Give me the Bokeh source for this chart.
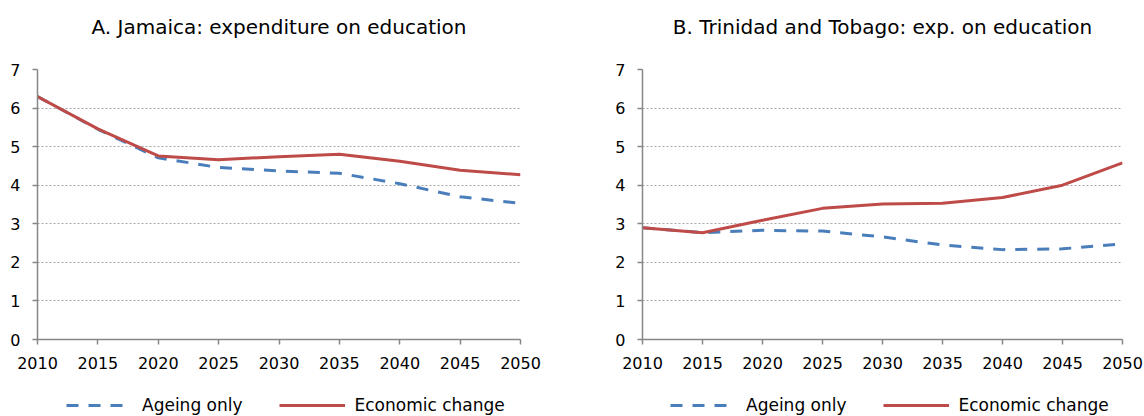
from bokeh.plotting import figure
from bokeh.layouts import row, column
from bokeh.models import Range1d, FixedTicker, Legend, LegendItem, ColumnDataSource, Title
from bokeh.embed import file_html
from bokeh.resources import INLINE

years = [2010, 2015, 2020, 2025, 2030, 2035, 2040, 2045, 2050]
jam_ageing = [6.30, 5.45, 4.71, 4.46, 4.37, 4.31, 4.04, 3.70, 3.53]
jam_econ = [6.30, 5.46, 4.76, 4.66, 4.74, 4.80, 4.62, 4.39, 4.27]
tt_ageing = [2.90, 2.77, 2.83, 2.81, 2.66, 2.45, 2.33, 2.35, 2.48]
tt_econ = [2.90, 2.77, 3.09, 3.40, 3.51, 3.53, 3.68, 4.00, 4.58]
y_ticks = [0, 1, 2, 3, 4, 5, 6, 7]
titles = ["A. Jamaica: expenditure on education",
          "B. Trinidad and Tobago: exp. on education"]
series_names = ["Ageing only", "Economic change"]

FONT = "DejaVu Sans"
BLUE = "#4A7EBB"
RED = "#BE4B48"
AXIS = "#868686"
GRID = "#A6A6A6"
DASH = "12 10"


def make_plot(title, ageing, econ, width, border_left, border_right):
    p = figure(width=width, height=375, output_backend="svg", toolbar_location=None,
               x_range=Range1d(2010, 2050), y_range=Range1d(0, 7),
               min_border_left=border_left, min_border_right=border_right,
               min_border_top=69, min_border_bottom=36, title=None)
    p.outline_line_color = None
    # inner spacer, then the visible title (outermost)
    p.add_layout(Title(text=" ", text_font_size="1px", standoff=19), "above")
    p.add_layout(Title(text=title, align="center", text_font=FONT,
                       text_font_size="20px", text_font_style="normal",
                       text_color="#000000", standoff=18), "above")

    src = ColumnDataSource(dict(x=years, a=ageing, e=econ))
    p.line("x", "a", source=src, line_color=BLUE, line_width=3, line_dash=DASH)
    p.line("x", "e", source=src, line_color=RED, line_width=3)

    p.xaxis.ticker = FixedTicker(ticks=years)
    p.yaxis.ticker = FixedTicker(ticks=y_ticks)
    for ax in (p.xaxis[0], p.yaxis[0]):
        ax.axis_line_color = AXIS
        ax.axis_line_width = 1.5
        ax.major_tick_line_color = AXIS
        ax.major_tick_line_width = 1.5
        ax.major_tick_in = 0
        ax.major_tick_out = 5
        ax.minor_tick_line_color = None
        ax.major_label_text_font = FONT
        ax.major_label_text_font_size = "16px"
        ax.major_label_text_color = "#000000"
    p.xaxis.major_label_standoff = 12
    p.yaxis.major_label_standoff = 12

    p.xgrid.grid_line_color = None
    p.ygrid.grid_line_color = GRID
    p.ygrid.grid_line_dash = "2 2"
    p.ygrid.grid_line_width = 1
    return p


def make_legend(ageing, econ, width, leg_x):
    lp = figure(width=width, height=41, output_backend="svg", toolbar_location=None,
                x_axis_type=None, y_axis_type=None,
                x_range=Range1d(2010, 2050), y_range=Range1d(100, 101),
                min_border=0)
    lp.outline_line_color = None
    lp.grid.grid_line_color = None
    src = ColumnDataSource(dict(x=years, a=ageing, e=econ))
    r_a = lp.line("x", "a", source=src, line_color=BLUE, line_width=3, line_dash=DASH)
    r_e = lp.line("x", "e", source=src, line_color=RED, line_width=3)
    legend = Legend(items=[LegendItem(label=series_names[0], renderers=[r_a]),
                           LegendItem(label=series_names[1], renderers=[r_e])],
                    orientation="horizontal", location=(leg_x, 1),
                    glyph_width=66, glyph_height=16, label_height=16,
                    label_standoff=10, spacing=36, padding=0, margin=0,
                    label_text_font=FONT, label_text_font_size="17px",
                    label_text_color="#000000",
                    background_fill_alpha=0, border_line_alpha=0)
    lp.add_layout(legend, "center")
    return lp


p1 = make_plot(titles[0], jam_ageing, jam_econ, 564, 37, 44)
p2 = make_plot(titles[1], tt_ageing, tt_econ, 580, 78, 22)
l1 = make_legend(jam_ageing, jam_econ, 564, 66)
l2 = make_legend(tt_ageing, tt_econ, 580, 106)
layout = column(row(p1, p2, spacing=0), row(l1, l2, spacing=0), spacing=0)

open("out.html", "w").write(file_html(layout, INLINE))
